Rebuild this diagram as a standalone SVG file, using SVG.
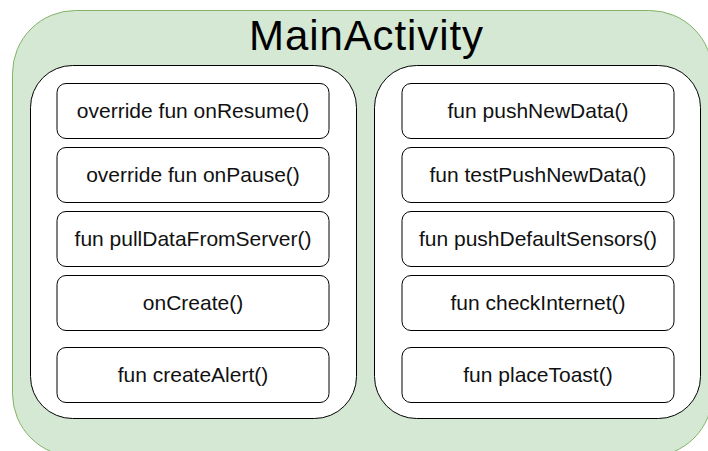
<svg xmlns="http://www.w3.org/2000/svg" width="708" height="451" viewBox="0 0 708 451">
  <style>
    .container { fill: #d5e8d4; stroke: #82b366; stroke-width: 1; }
    .panel { fill: #ffffff; stroke: #000000; stroke-width: 1; }
    .method rect { fill: #ffffff; stroke: #000000; stroke-width: 1; }
    .method text { font-family: "Liberation Sans", Arial, sans-serif; font-size: 21px; fill: #111111; text-anchor: middle; }
    .title { font-family: "Liberation Sans", Arial, sans-serif; font-size: 42px; fill: #000000; text-anchor: middle; }
  </style>

  <!-- MainActivity container -->
  <g id="main-activity">
    <rect class="container" x="12.5" y="10.5" width="700" height="446" rx="63" ry="63"/>
    <text class="title" x="366" y="49.5" textLength="234" lengthAdjust="spacing">MainActivity</text>
  </g>

  <!-- left column of members -->
  <g id="left-panel">
    <rect class="panel" x="30.5" y="65.5" width="326" height="353" rx="42" ry="42"/>
  </g>
  <g id="on-resume" class="method">
    <rect x="57" y="83.5" width="272" height="55" rx="9"/>
    <text x="193" y="118">override fun onResume()</text>
  </g>
  <g id="on-pause" class="method">
    <rect x="57" y="147.5" width="272" height="55" rx="9"/>
    <text x="193" y="182">override fun onPause()</text>
  </g>
  <g id="pull-data-from-server" class="method">
    <rect x="57" y="211.5" width="272" height="55" rx="9"/>
    <text x="193" y="246">fun pullDataFromServer()</text>
  </g>
  <g id="on-create" class="method">
    <rect x="57" y="275.5" width="272" height="55" rx="9"/>
    <text x="193" y="310">onCreate()</text>
  </g>
  <g id="create-alert" class="method">
    <rect x="57" y="347.5" width="272" height="55" rx="9"/>
    <text x="193" y="382">fun createAlert()</text>
  </g>

  <!-- right column of members -->
  <g id="right-panel">
    <rect class="panel" x="374.5" y="65.5" width="326" height="353" rx="42" ry="42"/>
  </g>
  <g id="push-new-data" class="method">
    <rect x="402" y="83.5" width="272" height="55" rx="9"/>
    <text x="538" y="118">fun pushNewData()</text>
  </g>
  <g id="test-push-new-data" class="method">
    <rect x="402" y="147.5" width="272" height="55" rx="9"/>
    <text x="538" y="182">fun testPushNewData()</text>
  </g>
  <g id="push-default-sensors" class="method">
    <rect x="402" y="211.5" width="272" height="55" rx="9"/>
    <text x="538" y="246">fun pushDefaultSensors()</text>
  </g>
  <g id="check-internet" class="method">
    <rect x="402" y="275.5" width="272" height="55" rx="9"/>
    <text x="538" y="310">fun checkInternet()</text>
  </g>
  <g id="place-toast" class="method">
    <rect x="402" y="347.5" width="272" height="55" rx="9"/>
    <text x="538" y="382">fun placeToast()</text>
  </g>

  <!-- no connectors between members -->
  <g id="connectors"/>
</svg>
